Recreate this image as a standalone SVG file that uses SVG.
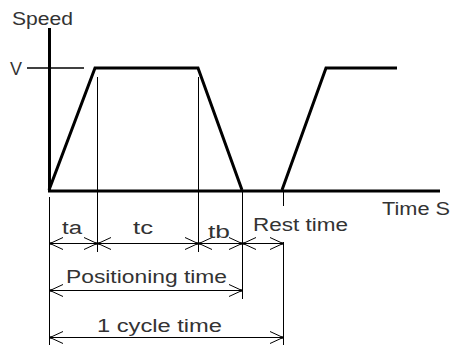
<svg xmlns="http://www.w3.org/2000/svg" width="453" height="345" viewBox="0 0 453 345">
<style>
text{font-family:"Liberation Sans",Arial,sans-serif;font-size:18px;fill:#333;lengthAdjust:spacing}
.thick{stroke:#000;stroke-width:3;fill:none;stroke-linejoin:miter}
.thin{stroke:#000;stroke-width:1;fill:none}
.dim{stroke:#000;stroke-width:1;fill:none;marker-start:url(#ah);marker-end:url(#ah)}
</style>
<defs>
<marker id="ah" viewBox="-14 -7 16 14" refX="0" refY="0" markerWidth="16" markerHeight="14" markerUnits="userSpaceOnUse" orient="auto-start-reverse">
<path d="M-13,-6 L0,0 L-13,6" fill="none" stroke="#000" stroke-width="1"/>
<circle cx="-1" cy="0" r="1.3" fill="#000"/>
</marker>
</defs>
<rect width="453" height="345" fill="#fff"/>
<g id="axes">
<line class="thick" x1="49.5" y1="28" x2="49.5" y2="192"/>
<line class="thick" x1="48" y1="191" x2="440" y2="191"/>
<line x1="27" y1="68" x2="84" y2="68" stroke="#000" stroke-width="1.5"/>
<text x="12" y="25" textLength="61" lengthAdjust="spacingAndGlyphs">Speed</text>
<text x="10" y="75" textLength="12" lengthAdjust="spacingAndGlyphs">V</text>
<text x="382" y="215" textLength="68" lengthAdjust="spacingAndGlyphs">Time S</text>
</g>
<g id="profile">
<path class="thick" d="M49,190 L95,68 L198,68 L242,190"/>
<path class="thick" d="M282,190 L326,68 L397,68"/>
</g>
<g id="guides">
<line class="thin" x1="49.5" y1="197" x2="49.5" y2="345"/>
<line class="thin" x1="97.5" y1="77" x2="97.5" y2="252"/>
<line class="thin" x1="198.5" y1="77" x2="198.5" y2="252"/>
<line class="thin" x1="242.5" y1="191" x2="242.5" y2="299"/>
<line class="thin" x1="283.5" y1="192" x2="283.5" y2="206"/>
<line class="thin" x1="283.5" y1="242" x2="283.5" y2="345"/>
</g>
<g id="connectors">
<line class="dim" x1="50" y1="243.5" x2="97" y2="243.5"/>
<line class="dim" x1="98" y1="243.5" x2="198" y2="243.5"/>
<line class="dim" x1="199" y1="243.5" x2="242" y2="243.5"/>
<line class="dim" x1="243" y1="243.5" x2="283" y2="243.5"/>
<line class="dim" x1="50" y1="290.5" x2="242" y2="290.5"/>
<line class="dim" x1="50" y1="337.5" x2="283" y2="337.5"/>
</g>
<g id="labels">
<text x="62" y="234" textLength="20" lengthAdjust="spacingAndGlyphs">ta</text>
<text x="133" y="234" textLength="20" lengthAdjust="spacingAndGlyphs">tc</text>
<text x="208" y="238" textLength="22" lengthAdjust="spacingAndGlyphs">tb</text>
<text x="253" y="231" textLength="95" lengthAdjust="spacingAndGlyphs">Rest time</text>
<text x="66" y="283" textLength="161" lengthAdjust="spacingAndGlyphs">Positioning time</text>
<text x="97" y="332" textLength="125" lengthAdjust="spacingAndGlyphs">1 cycle time</text>
</g>
</svg>
